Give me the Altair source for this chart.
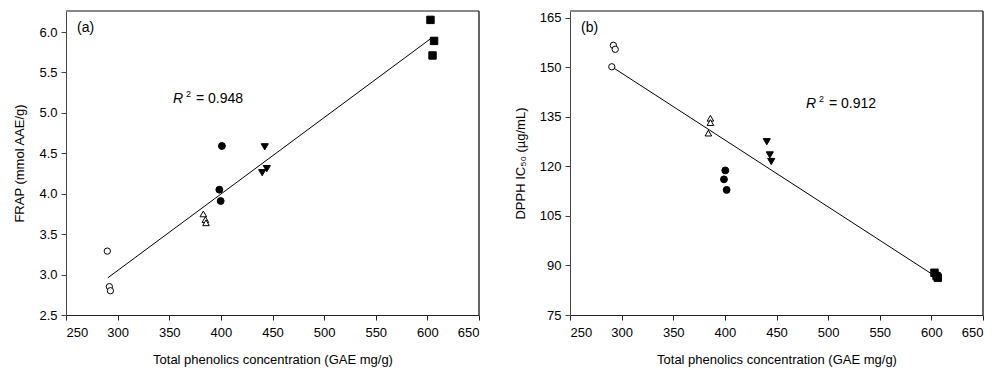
import altair as alt
import pandas as pd

# ---- data ----
groups = ["open_circle"] * 3 + ["open_triangle"] * 3 + ["filled_circle"] * 3 + ["triangle_down"] * 3 + ["square"] * 3

# Panel (a): FRAP vs total phenolics
tpc_a = [290, 292, 293, 383, 385, 385.6, 401, 398.5, 399.8, 442.5, 444.5, 440, 603, 606.5, 605]
frap = [3.29, 2.85, 2.80, 3.75, 3.68, 3.64, 4.59, 4.05, 3.91, 4.58, 4.31, 4.26, 6.15, 5.89, 5.71]

# Panel (b): DPPH IC50 vs total phenolics
tpc_b = [290.5, 292, 293.8, 386, 386, 384, 400.4, 399.1, 401.7, 440.6, 443.5, 444.9, 603, 606.2, 605]
dpph = [150.2, 156.7, 155.5, 134.6, 133.3, 130.1, 118.8, 116.1, 112.9, 127.5, 123.5, 121.5, 87.8, 86.3, 86.8]

# regression line end points
line_a_x = [290.5, 604.5]
line_a_y = [2.96, 5.93]
line_b_x = [290.5, 603.5]
line_b_y = [150.2, 86.8]

x_ticks = [250, 300, 350, 400, 450, 500, 550, 600, 650]
y_ticks_a = [2.5, 3.0, 3.5, 4.0, 4.5, 5.0, 5.5, 6.0]
y_ticks_b = [75, 90, 105, 120, 135, 150, 165]

shape_domain = ["open_circle", "open_triangle", "filled_circle", "triangle_down", "square"]
shape_range = ["circle", "triangle-up", "circle", "triangle-down", "square"]
fill_range = ["white", "white", "black", "black", "black"]
size_range = [40, 55, 55, 60, 60]

FONT = "Liberation Sans"
W, H = 413, 304

df_a = pd.DataFrame({"x": tpc_a, "y": frap, "g": groups})
df_b = pd.DataFrame({"x": tpc_b, "y": dpph, "g": groups})
la = pd.DataFrame({"x": line_a_x, "y": line_a_y})
lb = pd.DataFrame({"x": line_b_x, "y": line_b_y})
one = pd.DataFrame({"k": [0]})

def txt(text, x, y, size=13, style="normal"):
    return alt.Chart(one).mark_text(text=text, align="left", baseline="middle", fontSize=size,
                                    fontStyle=style, fontWeight="normal", font=FONT,
                                    color="black").encode(x=alt.value(x), y=alt.value(y))

def panel(df, ldf, ydom, yticks, yfmt, ytitle, tag, r2, r2x, r2y):
    xs = alt.Scale(domain=[250, 650], nice=False, zero=False)
    ys = alt.Scale(domain=ydom, nice=False, zero=False)
    xax = alt.Axis(values=x_ticks, title="Total phenolics concentration (GAE mg/g)",
                   grid=False, tickSize=5, labelPadding=6, titlePadding=14,
                   domainColor="#222", tickColor="#222")
    yax = alt.Axis(values=yticks, format=yfmt, title=ytitle, grid=False, tickSize=5,
                   labelPadding=4, titlePadding=12, domainColor="#444", tickColor="#444")
    line = alt.Chart(ldf).mark_line(color="black", strokeWidth=1).encode(
        x=alt.X("x:Q", scale=xs, axis=xax),
        y=alt.Y("y:Q", scale=ys, axis=yax),
    )
    pts = alt.Chart(df).mark_point(stroke="black", strokeWidth=1, opacity=1, filled=False).encode(
        x=alt.X("x:Q", scale=xs),
        y=alt.Y("y:Q", scale=ys),
        shape=alt.Shape("g:N", scale=alt.Scale(domain=shape_domain, range=shape_range), legend=None),
        fill=alt.Fill("g:N", scale=alt.Scale(domain=shape_domain, range=fill_range), legend=None),
        size=alt.Size("g:N", scale=alt.Scale(domain=shape_domain, range=size_range), legend=None),
    )
    top = alt.Chart(one).mark_rule(color="#888", strokeWidth=2).encode(
        x=alt.value(0), x2=alt.value(W), y=alt.value(0))
    right = alt.Chart(one).mark_rule(color="#333", strokeWidth=1.5).encode(
        x=alt.value(W), y=alt.value(0), y2=alt.value(H))
    return alt.layer(
        line, pts, top, right,
        txt(tag, 11, 17, 14),
        txt("R", r2x, r2y, 14, "italic"),
        txt("2", r2x + 13, r2y - 5, 9),
        txt("= " + r2, r2x + 23, r2y, 14),
    ).properties(width=W, height=H)

pa = panel(df_a, la, [2.5, 6.26], y_ticks_a, ".1f", "FRAP (mmol AAE/g)", "(a)", "0.948", 107, 88)
pb = panel(df_b, lb, [75, 167.1], y_ticks_b, "d", "DPPH IC\u2085\u2080 (\u00b5g/mL)", "(b)", "0.912", 236, 93)

chart = alt.hconcat(pa, pb, spacing=34).properties(
    padding={"left": 5, "top": 2, "right": 5, "bottom": 5}
).configure_view(stroke=None).configure_axis(
    labelFont=FONT, titleFont=FONT, labelFontSize=13, titleFontSize=13,
    titleFontWeight="normal", labelColor="black", titleColor="black"
)

chart.save("out.html", embed_options={"renderer": "svg", "actions": False})
